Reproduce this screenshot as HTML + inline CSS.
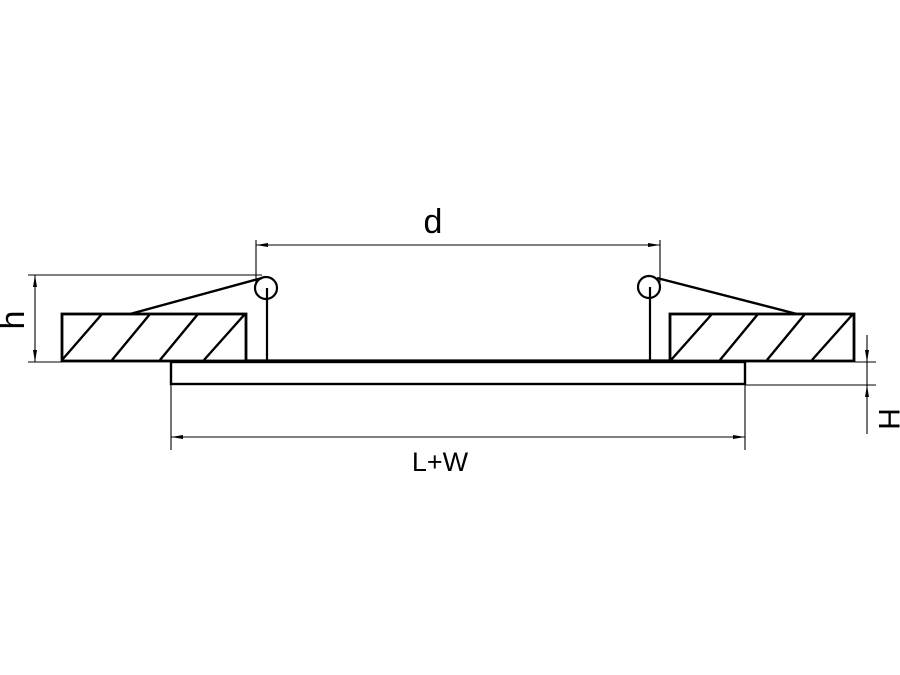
<!DOCTYPE html>
<html><head><style>body{margin:0;background:#fff}svg{display:block}</style></head><body>
<svg width="900" height="675" viewBox="0 0 900 675" xmlns="http://www.w3.org/2000/svg">
<rect width="900" height="675" fill="#fff"/>
<g stroke="#000" fill="none">
<rect x="62" y="314" width="184" height="47" stroke-width="2.8"/>
<rect x="670" y="314" width="184" height="47" stroke-width="2.8"/>
<g stroke-width="2.4">
<line x1="62" y1="360" x2="102" y2="314"/><line x1="112" y1="360" x2="150" y2="314"/>
<line x1="160" y1="360" x2="198" y2="314"/><line x1="204" y1="360" x2="245" y2="314"/>
<line x1="671" y1="360" x2="712" y2="314"/><line x1="720" y1="360" x2="758" y2="314"/>
<line x1="767" y1="360" x2="805" y2="314"/><line x1="812" y1="360" x2="853" y2="314"/>
</g>
<rect x="171" y="362" width="574" height="22" stroke-width="2.4"/>
<line x1="246" y1="361" x2="670" y2="361" stroke-width="3.2"/>
<circle cx="266" cy="288" r="11" stroke-width="2.2"/>
<circle cx="649" cy="287" r="11" stroke-width="2.2"/>
<line x1="267" y1="288" x2="267" y2="361" stroke-width="2.2"/>
<line x1="650" y1="287" x2="650" y2="361" stroke-width="2.2"/>
<line x1="262" y1="278" x2="130" y2="314" stroke-width="2.4"/>
<line x1="657" y1="278" x2="797" y2="314" stroke-width="2.4"/>
<g stroke-width="1.1">
<line x1="256" y1="240" x2="256" y2="282"/><line x1="660" y1="240" x2="660" y2="282"/>
<line x1="256" y1="245" x2="660" y2="245"/>
<line x1="28" y1="275" x2="262" y2="275"/><line x1="28" y1="362" x2="62" y2="362"/>
<line x1="35" y1="275" x2="35" y2="362"/>
<line x1="171" y1="384" x2="171" y2="450"/><line x1="745" y1="384" x2="745" y2="450"/>
<line x1="171" y1="437" x2="745" y2="437"/>
<line x1="855" y1="362" x2="876" y2="362"/><line x1="745" y1="385" x2="876" y2="385"/>
<line x1="867" y1="335" x2="867" y2="434"/>
</g>
</g>
<g fill="#000">
<polygon points="256,245 268,243 268,247"/><polygon points="660,245 648,243 648,247"/>
<polygon points="35,275 33,287 37,287"/><polygon points="35,362 33,350 37,350"/>
<polygon points="171,437 183,435 183,439"/><polygon points="745,437 733,435 733,439"/>
<polygon points="867,362 865,350 869,350"/><polygon points="867,385 865,397 869,397"/>
</g>
<g font-family="Liberation Sans, sans-serif" fill="#000">
<text x="433" y="233" font-size="34" text-anchor="middle">d</text>
<text x="440" y="471" font-size="27" text-anchor="middle">L+W</text>
<text transform="translate(24,320) rotate(-90)" font-size="34" text-anchor="middle">h</text>
<text transform="translate(879,419) rotate(90)" font-size="30" text-anchor="middle">H</text>
</g>
</svg>
</body></html>
